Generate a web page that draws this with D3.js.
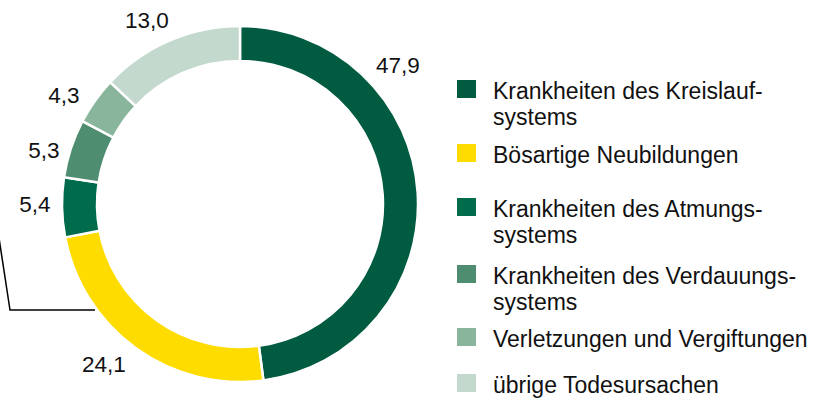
<!DOCTYPE html>
<html>
<head>
<meta charset="utf-8">
<script src="https://cdn.jsdelivr.net/npm/d3@7"></script>
<style>
  body { margin: 0; background: #fff; }
  svg { display: block; }
  text { font-family: "Liberation Sans", Arial, Helvetica, sans-serif; }
</style>
</head>
<body>
<svg class="donut"></svg>
<script>
const width = 837;
const height = 401;

// Data
const categories = [
    'Krankheiten des Kreislauf-|systems',
    'Bösartige Neubildungen',
    'Krankheiten des Atmungs-|systems',
    'Krankheiten des Verdauungs-|systems',
    'Verletzungen und Vergiftungen',
    'übrige Todesursachen'
];
const values = [47.9, 24.1, 5.4, 5.3, 4.3, 13.0];
const valueLabels = ['47,9', '24,1', '5,4', '5,3', '4,3', '13,0'];
const colors = ['#005b41', '#ffdc00', '#006c4c', '#4f8d70', '#8ab59d', '#c3d9ce'];

// Layout
const cx = 240, cy = 204;
const outerR = 178, innerR = 143;
// label anchor points (centre x, baseline y), placed by hand like the original
const labelPos = [[398, 73], [104, 372], [35, 212], [44, 158], [64, 103], [147, 28]];
const legendX = 457, legendTextX = 493;
const legendBaselines = [99, 163, 217, 284, 347, 393];
const lineGap = 26;

const svg = d3.select('.donut')
    .attr('width', width)
    .attr('height', height);

const pie = d3.pie().sort(null).value(d => d);
const arc = d3.arc().innerRadius(innerR).outerRadius(outerR);

const g = svg.append('g')
    .attr('transform', `translate(${cx},${cy})`);

g.selectAll('path')
    .data(pie(values))
    .enter().append('path')
    .attr('d', arc)
    .attr('fill', (d, i) => colors[i])
    .attr('stroke', '#fff')
    .attr('stroke-width', 2.5);

// value labels
svg.selectAll('.val')
    .data(valueLabels)
    .enter().append('text')
    .attr('class', 'val')
    .attr('x', (d, i) => labelPos[i][0])
    .attr('y', (d, i) => labelPos[i][1])
    .attr('text-anchor', 'middle')
    .attr('font-size', 22.5)
    .attr('fill', '#111')
    .text(d => d);

// bracket line at the left
svg.append('path')
    .attr('d', 'M-1,238L10,310L95,310')
    .attr('fill', 'none')
    .attr('stroke', '#000')
    .attr('stroke-width', 1.5);

// Legend
const legend = svg.selectAll('.legend')
    .data(categories)
    .enter().append('g')
    .attr('class', 'legend');

legend.append('rect')
    .attr('x', legendX)
    .attr('y', (d, i) => legendBaselines[i] - 19)
    .attr('width', 19)
    .attr('height', 18)
    .attr('fill', (d, i) => colors[i]);

legend.append('text')
    .attr('x', legendTextX)
    .attr('y', (d, i) => legendBaselines[i])
    .attr('font-size', 23)
    .attr('fill', '#111')
    .each(function(d) {
        const lines = d.split('|');
        d3.select(this).selectAll('tspan')
            .data(lines)
            .enter().append('tspan')
            .attr('x', legendTextX)
            .attr('dy', (l, j) => j === 0 ? 0 : lineGap)
            .text(l => l);
    });
</script>
</body>
</html>
